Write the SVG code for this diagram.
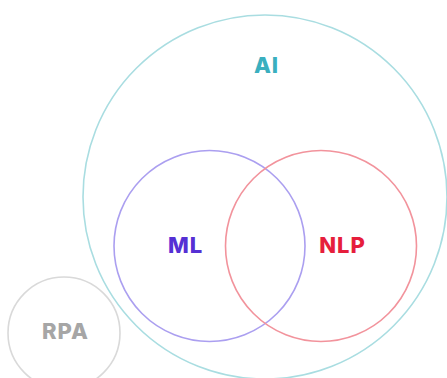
<svg xmlns="http://www.w3.org/2000/svg" width="447" height="378" viewBox="0 0 447 378">
  <style>
    .ring { fill: none; stroke-width: 1.6; }
    .label { font-family: Inter, Lato, "Liberation Sans", sans-serif; font-weight: 800; font-size: 22px; letter-spacing: 1px; text-anchor: middle; }
  </style>
  <rect width="447" height="378" fill="#ffffff"/>
  <g id="ai">
    <circle class="ring" cx="265" cy="197" r="182" stroke="#a9dde1"/>
    <text class="label" x="266.5" y="72.5" fill="#3aafbf">AI</text>
  </g>
  <g id="ml">
    <circle class="ring" cx="209.5" cy="246" r="95.5" stroke="#ab9ff0"/>
    <text class="label" x="185.5" y="252.5" fill="#5530d4">ML</text>
  </g>
  <g id="nlp">
    <circle class="ring" cx="321" cy="246" r="95.5" stroke="#f2939c"/>
    <text class="label" x="342.5" y="252.5" fill="#e61e3c">NLP</text>
  </g>
  <g id="rpa">
    <circle class="ring" cx="64" cy="333" r="56" stroke="#d9d9d9"/>
    <text class="label" x="65.5" y="338.5" fill="#a6a6a6">RPA</text>
  </g>
  <g id="connectors"/>
</svg>
